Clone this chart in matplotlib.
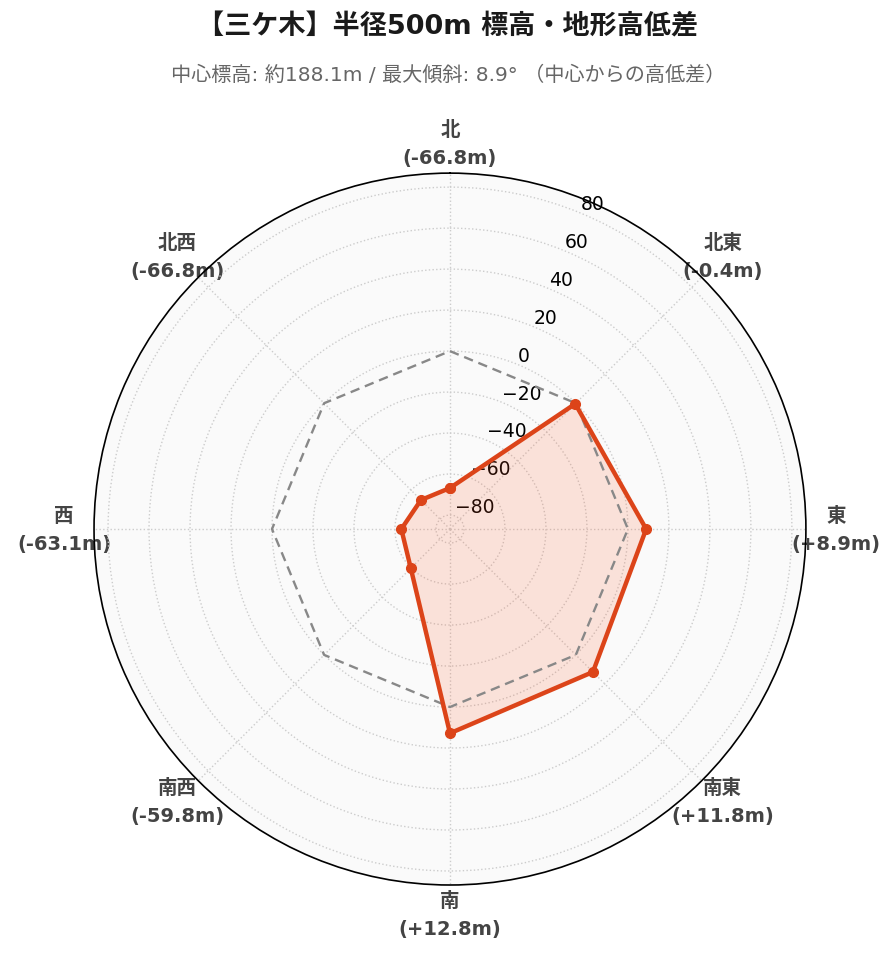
import numpy as np
import matplotlib.pyplot as plt

plt.rcParams['font.family'] = ['DejaVu Sans', 'Noto Sans CJK JP']

# 方位と中心からの高低差 (m)
directions = ['北', '北東', '東', '南東', '南', '南西', '西', '北西']
diffs = [-66.8, -0.4, 8.9, 11.8, 12.8, -59.8, -63.1, -66.8]
center_elev = 188.1
max_slope = 8.9

angles = np.deg2rad(np.arange(0, 360, 45))
labels = [f'{d}\n({v:+.1f}m)' for d, v in zip(directions, diffs)]
lim = max(abs(v) for v in diffs) * 1.3

fig = plt.figure(figsize=(8.96, 9.62), dpi=100)
ax = fig.add_axes([0.1049, 0.079, 0.7946, 0.740], projection='polar')
ax.set_theta_zero_location('N')
ax.set_theta_direction(-1)
ax.set_facecolor('#FAFAFA')

# closed polygons
a_closed = np.append(angles, angles[0])
d_closed = diffs + diffs[:1]
zero = [0] * len(a_closed)

ax.plot(a_closed, zero, color='#888888', lw=1.7, ls=(0, (4, 2.5)), zorder=3)
ax.fill(a_closed, d_closed, color='#FF5722', alpha=0.15, lw=0, zorder=2)
ax.plot(a_closed, d_closed, color='#DC4419', lw=3.2, marker='o', ms=7, zorder=4)

ax.set_ylim(-lim, lim)
ax.set_yticks(np.arange(-80, 81, 20))
ax.set_yticklabels([f'{t}'.replace('-', '\u2212') for t in np.arange(-80, 81, 20)],
                   fontsize=13.5)
ax.set_rlabel_position(22.5)

ax.set_xticks(angles)
ax.set_xticklabels(labels, fontsize=14, fontweight='bold', color='#444444')
for t in ax.get_xticklabels():
    t.set_linespacing(1.6)
ax.tick_params(axis='x', pad=11)

ax.grid(True, color='#CCCCCC', ls=':', lw=1.0)
ax.spines['polar'].set_color('black')
ax.spines['polar'].set_linewidth(1.2)

fig.text(0.5, 0.971, '【三ケ木】半径500m 標高・地形高低差', ha='center', va='center',
         fontsize=19.5, fontweight='bold', color='#1A1A1A')
fig.text(0.5, 0.922, f'中心標高: 約{center_elev}m / 最大傾斜: {max_slope}° （中心からの高低差）',
         ha='center', va='center', fontsize=14.5, color='#666666')

fig.savefig('out.png', dpi=100, facecolor='white')
